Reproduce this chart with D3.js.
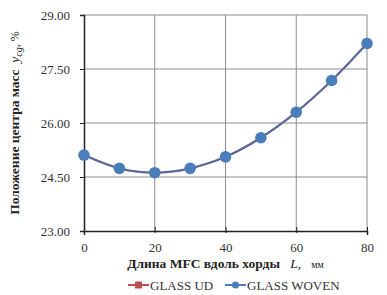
<!DOCTYPE html>
<html><head><meta charset="utf-8">
<script src="https://cdn.jsdelivr.net/npm/d3@7"></script>
<style>body{margin:0;background:#fff;} svg{display:block;}</style>
</head><body>
<script>
const xValues = [0, 10, 20, 30, 40, 50, 60, 70, 80];
const glassUD = [25.11, 24.74, 24.62, 24.74, 25.06, 25.59, 26.30, 27.18, 28.21];
const glassWoven = [25.11, 24.74, 24.62, 24.74, 25.06, 25.59, 26.30, 27.18, 28.21];
const yTicks = [23, 24.5, 26, 27.5, 29];
const xTicks = [0, 20, 40, 60, 80];
const seriesNames = ["GLASS UD", "GLASS WOVEN"];

const W = 387, H = 295;
const m = {left: 84, right: 20, top: 15, bottom: 64};
const svg = d3.select("body").append("svg").attr("width", W).attr("height", H);
const x = d3.scaleLinear().domain([0, 80]).range([m.left, W - m.right]);
const y = d3.scaleLinear().domain([23, 29]).range([H - m.bottom, m.top]);
const serif = "'Liberation Serif','Times New Roman',serif";

// grid
svg.append("g").selectAll("line").data(yTicks.slice(1)).join("line")
  .attr("x1", x(0)).attr("x2", x(80)).attr("y1", d => y(d)).attr("y2", d => y(d))
  .attr("stroke", "#8c8c8c").attr("stroke-width", 1);
svg.append("g").selectAll("line").data(xTicks.slice(1)).join("line")
  .attr("y1", y(23)).attr("y2", y(29)).attr("x1", d => x(d)).attr("x2", d => x(d))
  .attr("stroke", "#8c8c8c").attr("stroke-width", 1);

// axes
const yAxis = svg.append("g").attr("transform", `translate(${x(0)},0)`)
  .call(d3.axisLeft(y).tickValues(yTicks).tickFormat(d3.format(".2f")).tickSize(4).tickPadding(10));
const xAxis = svg.append("g").attr("transform", `translate(0,${y(23)})`)
  .call(d3.axisBottom(x).tickValues(xTicks).tickSize(4).tickPadding(8));
[yAxis, xAxis].forEach(a => {
  a.select(".domain").attr("stroke", "#222").attr("stroke-width", 1.5);
  a.selectAll(".tick line").attr("stroke", "#222");
  a.selectAll("text").attr("font-family", serif).attr("font-size", 13).attr("fill", "#333");
});
xAxis.selectAll(".tick line").attr("y1", -4).attr("y2", 2);

// series
const line = d3.line().x((d, i) => x(xValues[i])).y(d => y(d)).curve(d3.curveCatmullRom.alpha(0.5));
svg.append("path").datum(glassUD).attr("d", line).attr("fill", "none").attr("stroke", "#c0504d").attr("stroke-width", 1.5);
svg.append("g").selectAll("rect").data(glassUD).join("rect")
  .attr("x", (d, i) => x(xValues[i]) - 4).attr("y", d => y(d) - 4).attr("width", 8).attr("height", 8).attr("fill", "#c0504d");
svg.append("path").datum(glassWoven).attr("d", line).attr("fill", "none").attr("stroke", "#5a6a9e").attr("stroke-width", 2.2);
svg.append("g").selectAll("circle").data(glassWoven).join("circle")
  .attr("cx", (d, i) => x(xValues[i])).attr("cy", d => y(d)).attr("r", 5.8).attr("fill", "#4a7ebb");

// axis titles
const yt = svg.append("text").attr("transform", `translate(19,${(y(23) + y(29)) / 2}) rotate(-90)`)
  .attr("text-anchor", "middle").attr("font-family", serif).attr("font-size", 13.5).attr("fill", "#222");
yt.append("tspan").attr("font-weight", "bold").text("Положение центра масс\u00a0\u00a0");
yt.append("tspan").attr("font-style", "italic").text("y");
yt.append("tspan").attr("font-size", 10).attr("dy", 3).attr("font-style", "italic").text("cg");
yt.append("tspan").attr("dy", -3).attr("font-size", 12).text(", %");

const xt = svg.append("text").attr("x", (x(0) + x(80)) / 2).attr("y", 268)
  .attr("text-anchor", "middle").attr("font-family", serif).attr("font-size", 13.5).attr("fill", "#222");
xt.append("tspan").attr("font-weight", "bold").text("Длина MFC вдоль хорды\u00a0\u00a0\u00a0");
xt.append("tspan").attr("font-style", "italic").text("L");
xt.append("tspan").text(",\u00a0\u00a0\u00a0");
xt.append("tspan").attr("font-size", 10).text("мм");

// legend
const leg = [{name: seriesNames[0], c: "#c0504d", lc: "#c0504d", x0: 128, shape: "rect"},
             {name: seriesNames[1], c: "#4a7ebb", lc: "#4a7ebb", x0: 225, shape: "circle"}];
const lg = svg.append("g");
leg.forEach(l => {
  lg.append("line").attr("x1", l.x0).attr("x2", l.x0 + 21).attr("y1", 285).attr("y2", 285).attr("stroke", l.lc).attr("stroke-width", 2);
  if (l.shape === "rect") lg.append("rect").attr("x", l.x0 + 7).attr("y", 281.5).attr("width", 7).attr("height", 7).attr("fill", l.c);
  else lg.append("circle").attr("cx", l.x0 + 10.5).attr("cy", 285).attr("r", 3.5).attr("fill", l.c);
  lg.append("text").attr("x", l.x0 + 22).attr("y", 289.5).attr("font-family", serif).attr("font-size", 13).attr("fill", "#333").text(l.name);
});
</script>
</body></html>
